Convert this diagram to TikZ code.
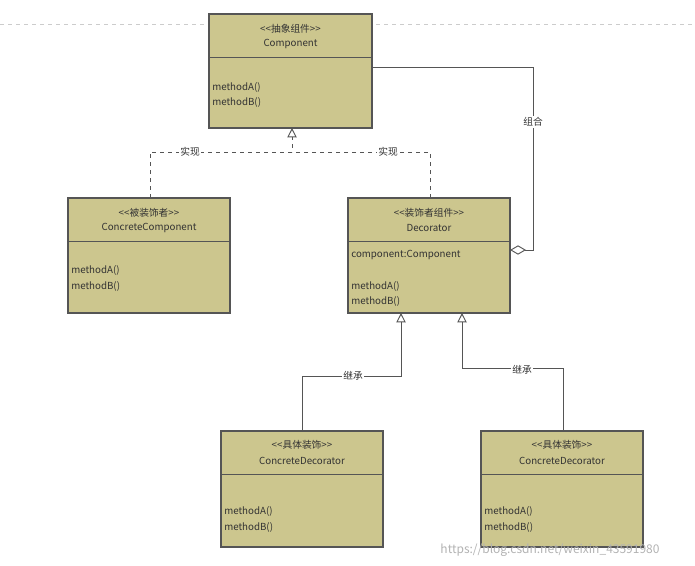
\documentclass[tikz,border=0pt]{standalone}
\usepackage{fontspec}
\setmainfont{Noto Sans CJK SC}
\usetikzlibrary{arrows.meta}
\definecolor{boxfill}{HTML}{CCC68E}
\definecolor{lnc}{HTML}{555555}
\newcommand{\lt}{<\kern0pt<}
\newcommand{\gt}{>\kern0pt>}
\tikzset{
 cls/.style={draw=lnc,fill=boxfill,line width=0.8pt},
 txt/.style={font=\fontsize{7.3}{8}\selectfont,text=black!80,inner sep=0pt},
 mt/.style={txt,anchor=west},
 conn/.style={draw=lnc,line width=0.7pt},
 lbl/.style={txt,fill=white,inner sep=1pt},
 real/.style={-{Triangle[open,length=7pt,width=7pt]}},
 agg/.style={-{Diamond[open,length=12pt,width=7pt]}},
}
\newcommand{\umlbox}[6]{% name, x1,y1,x2,y2, divider y
 \draw[cls] (#2,#3) rectangle (#4,#5);
 \draw[conn] (#2,#6) -- (#4,#6);
 \coordinate (#1-nw) at (#2,#3);
}
\begin{document}
\begin{tikzpicture}[x=0.75pt,y=-0.75pt]
\useasboundingbox (0,0) rectangle (695,566);
\draw[gray!40,dashed] (0,24) -- (695,24);
% Component
\umlbox{c}{209}{14}{372}{128}{57}
\node[txt] (c1) at (290.5,29) {\lt 抽象组件\gt};
\node[txt] (c2) at (290.5,44) {Component};
\node[mt] (c3) at (212,87) {methodA()};
\node[mt] (c4) at (212,102) {methodB()};
\coordinate (cB) at (292,128);
\coordinate (cR) at (372,67);
% ConcreteComponent
\umlbox{cc}{68}{198}{230}{313}{241}
\node[txt] (cc1) at (149,213) {\lt 被装饰者\gt};
\node[txt] (cc2) at (149,228) {ConcreteComponent};
\node[mt] (cc3) at (71,270) {methodA()};
\node[mt] (cc4) at (71,286) {methodB()};
% Decorator
\umlbox{d}{348}{198}{510}{313}{241}
\node[txt] (d1) at (429,213) {\lt 装饰者组件\gt};
\node[txt] (d2) at (429,228) {Decorator};
\node[mt] (d3) at (351,255) {component:Component};
\node[mt] (d4) at (351,286) {methodA()};
\node[mt] (d5) at (351,301) {methodB()};
% CD1
\umlbox{e}{221}{431}{383}{547}{474}
\node[txt] (e1) at (302,445) {\lt 具体装饰\gt};
\node[txt] (e2) at (302,461) {ConcreteDecorator};
\node[mt] (e3) at (224,511) {methodA()};
\node[mt] (e4) at (224,527) {methodB()};
% CD2
\umlbox{f}{481}{431}{643}{547}{474}
\node[txt] (f1) at (562,445) {\lt 具体装饰\gt};
\node[txt] (f2) at (562,461) {ConcreteDecorator};
\node[mt] (f3) at (484,511) {methodA()};
\node[mt] (f4) at (484,527) {methodB()};
% realization
\draw[conn,dashed,real] (150,198) -- (150,152) -- (292,152) -- (cB);
\draw[conn,dashed] (430,198) -- (430,152) -- (292,152);
\node[lbl] (r1) at (190,152) {实现};
\node[lbl] (r2) at (388,152) {实现};
% composition
\draw[conn,agg] (cR) -- (533,67) -- (533,250) -- (510,250);
\node[lbl] (g) at (533,122) {组合};
% inheritance
\draw[conn,real] (302,431) -- (302,376) -- (401,376) -- (401,313);
\node[lbl] (i1) at (353,376) {继承};
\draw[conn,real] (563,431) -- (563,368) -- (462,368) -- (462,313);
\node[lbl] (i2) at (522,370) {继承};
\node[txt,text=gray!60,font=\fontsize{9}{10}\selectfont] (w) at (550,550) {https://blog.csdn.net/weixin\_43591980};
\end{tikzpicture}
\end{document}
